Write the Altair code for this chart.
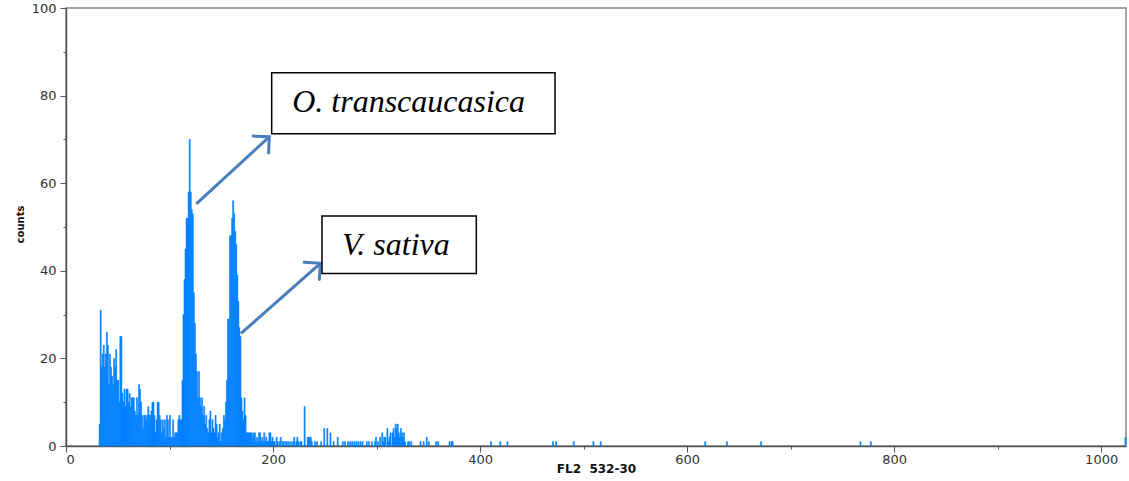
import altair as alt
import pandas as pd

# ---- histogram data (FL2 channel -> counts) ----
main_start = 32
main_counts = [
    5, 31, 18, 21, 23, 18, 21, 26, 23, 14,
    21, 18, 16, 14, 20, 18, 22, 15, 15, 10,
    25, 25, 12, 10, 13, 9, 13, 13, 10, 12,
    9, 11, 11, 11, 8, 7, 11, 7, 14, 13,
    10, 7, 4, 7, 7, 6, 7, 9, 7, 7,
    8, 10, 10, 7, 3, 6, 10, 10, 7, 6,
    3, 6, 4, 6, 2, 7, 6, 2, 7, 2,
    2, 6, 2, 3, 3, 3, 6, 7, 6, 6,
    15, 30, 38, 45, 52, 52, 58, 70, 58, 54,
    53, 35, 28, 21, 17, 11, 17, 11, 9, 11,
    7, 9, 5, 7, 4, 3, 6, 8, 3, 6,
    4, 3, 7, 5, 2, 3, 5, 1, 3, 4,
    7, 6, 10, 15, 29, 29, 48, 48, 52, 56,
    53, 49, 46, 39, 33, 27, 25, 11, 8, 6,
    11, 7, 3,
]

tail_channels = [
    175, 176, 177, 178, 179, 180, 181, 182, 183, 184, 185, 186, 187, 188, 189,
    190, 191, 192, 193, 194, 195, 196, 197, 198, 199, 200, 201, 203, 204, 206,
    207, 209, 210, 212, 213, 215, 217, 219, 220, 222, 223, 224, 226, 227, 230,
    233, 234, 235, 236, 237, 240, 242, 246, 249, 252, 255, 258, 262, 267, 269,
    272, 274, 276, 278, 280, 282, 284, 286, 290, 292, 295, 298, 299, 301, 303,
    305, 306, 307, 308, 310, 311, 312, 313, 315, 316, 317, 318, 319, 320, 321,
    322, 323, 324, 325, 326, 327, 330, 331, 333, 342, 345, 348, 350, 357, 359,
    370, 372, 373, 410, 419, 426, 470, 473, 490, 509, 516, 617, 638, 671, 767,
    777, 1023,
]
tail_counts = [
    3, 3, 3, 3, 3, 2, 3, 3, 1, 2, 1, 3, 3, 1, 2,
    1, 3, 1, 2, 1, 1, 3, 3, 1, 2, 1, 1, 2, 1, 1,
    2, 1, 1, 1, 1, 1, 1, 1, 2, 1, 2, 1, 1, 1, 9,
    2, 2, 2, 2, 1, 1, 1, 1, 4, 4, 3, 1, 2, 1, 1,
    1, 1, 1, 1, 1, 1, 1, 1, 1, 1, 1, 1, 2, 1, 2,
    3, 1, 2, 2, 4, 1, 2, 3, 3, 4, 2, 5, 4, 5, 3,
    2, 4, 3, 2, 3, 1, 1, 1, 1, 1, 1, 2, 1, 1, 1,
    1, 1, 1, 1, 1, 1, 1, 1, 1, 1, 1, 1, 1, 1, 1,
    1, 2,
]

channels = list(range(main_start, main_start + len(main_counts))) + tail_channels
counts = main_counts + tail_counts
hist = pd.DataFrame({"x": channels, "y": counts})

# ---- annotations (data coordinates) ----
label_text = ["O. transcaucasica", "V. sativa"]
label_x = [331, 318.6]
label_y = [76.2, 43.6]
box_x1 = [198.7, 247.3]
box_x2 = [472.4, 396.4]
box_y1 = [71.3, 39.4]
box_y2 = [85.2, 52.5]
arrow_x1 = [125.9, 169.1]
arrow_y1 = [55.3, 25.7]
arrow_x2 = [196.4, 245.7]
arrow_y2 = [70.6, 41.7]
arrow_angle = [47.4, 48.6]

boxes = pd.DataFrame({"x": box_x1, "x2": box_x2, "y": box_y1, "y2": box_y2})
labels = pd.DataFrame({"x": label_x, "y": label_y, "t": label_text})
arrows = pd.DataFrame({"x": arrow_x1, "y": arrow_y1, "x2": arrow_x2, "y2": arrow_y2})
heads = pd.DataFrame({"x": arrow_x2, "y": arrow_y2, "a": arrow_angle})

xscale = alt.Scale(domain=[0, 1024], nice=False, zero=False)
yscale = alt.Scale(domain=[0, 100], nice=False)

xaxis = alt.Axis(
    values=list(range(0, 1001, 100)),
    labelExpr="datum.value % 200 === 0 ? datum.label : ''",
    format="d",
    title="FL2\u00a0 532-30",
    titleFont="DejaVu Sans",
    titleFontSize=12,
    titleFontWeight="bold",
    titleColor="#111",
    titleBaseline="middle",
    titleY=22,
    labelFont="DejaVu Sans",
    labelFontSize=13,
    labelColor="#333",
    labelPadding=1,
    tickColor="#555",
    tickSize={"condition": {"test": "datum.value % 200 === 0", "value": 6}, "value": 3},
    domainColor="#555",
    domainWidth=1.5,
    grid=False,
)
yaxis = alt.Axis(
    values=list(range(0, 101, 10)),
    labelExpr="datum.value % 20 === 0 ? datum.label : ''",
    title="counts",
    titleFont="DejaVu Sans",
    titleFontSize=10,
    titleFontWeight="bold",
    titleColor="#111",
    titleBaseline="middle",
    titleAngle=270,
    titleX=-46,
    titleY=216,
    labelFont="DejaVu Sans",
    labelFontSize=13,
    labelColor="#333",
    labelPadding=4,
    tickColor="#555",
    tickSize={"condition": {"test": "datum.value % 20 === 0", "value": 6}, "value": 3},
    domainColor="#555",
    domainWidth=1.5,
    grid=False,
)

bars = alt.Chart(hist).transform_calculate(xe="datum.x + 1", y0="0").mark_bar(
    color="#0080FF", stroke="#0080FF", strokeWidth=0.6
).encode(
    x=alt.X("x:Q", scale=xscale, axis=xaxis),
    x2="xe:Q",
    y=alt.Y("y:Q", scale=yscale, axis=yaxis),
    y2="y0:Q",
)

box_layer = alt.Chart(boxes).mark_rect(
    fill="white", stroke="black", strokeWidth=1.5
).encode(
    x=alt.X("x:Q", scale=xscale, axis=xaxis),
    x2="x2:Q",
    y=alt.Y("y:Q", scale=yscale, axis=yaxis),
    y2="y2:Q",
)

text_layer = alt.Chart(labels).mark_text(
    font="Liberation Serif", fontSize=32, fontStyle="italic",
    align="center", baseline="alphabetic", color="black"
).encode(
    x=alt.X("x:Q", scale=xscale, axis=xaxis),
    y=alt.Y("y:Q", scale=yscale, axis=yaxis),
    text="t:N",
)

arrow_layer = alt.Chart(arrows).mark_rule(
    color="#4A7EBB", strokeWidth=3
).encode(
    x=alt.X("x:Q", scale=xscale, axis=xaxis),
    y=alt.Y("y:Q", scale=yscale, axis=yaxis),
    x2="x2:Q",
    y2="y2:Q",
)

head_layer = alt.Chart(heads).mark_point(
    shape="M-1,1L0,0L1,1", filled=False, stroke="#4A7EBB", strokeWidth=3,
    size=520, opacity=1, strokeCap="round", strokeJoin="miter"
).encode(
    x=alt.X("x:Q", scale=xscale, axis=xaxis),
    y=alt.Y("y:Q", scale=yscale, axis=yaxis),
    angle=alt.Angle("a:Q", scale=None),
)

chart = alt.layer(bars, arrow_layer, head_layer, box_layer, text_layer).properties(
    width=1060,
    height=438,
    padding={"left": 66, "top": 8, "right": 3, "bottom": 35},
    autosize=alt.AutoSizeParams(type="none"),
    background="white",
).configure_view(stroke="#888", strokeWidth=1.5)

chart.save("out.html", embed_options={"renderer": "svg", "actions": False})
